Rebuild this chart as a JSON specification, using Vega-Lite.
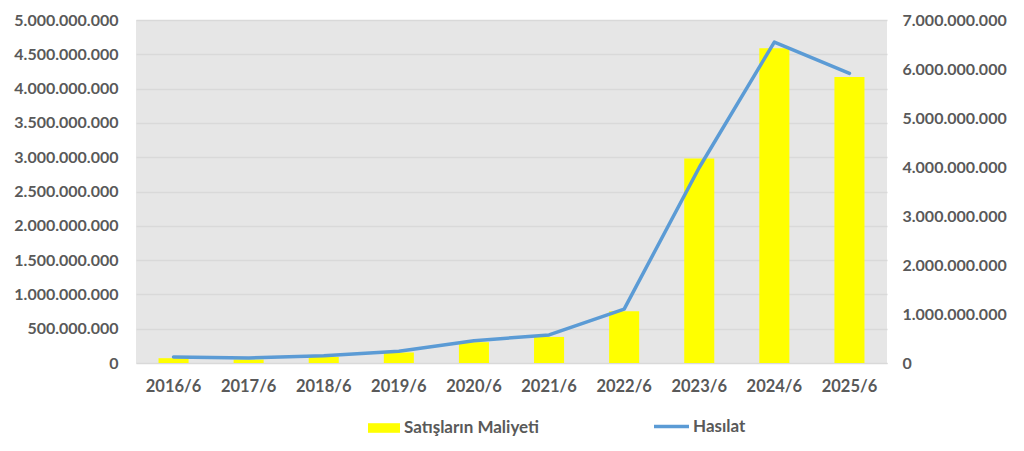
{
  "$schema": "https://vega.github.io/schema/vega-lite/v6.json",
  "width": 751,
  "height": 343,
  "autosize": {"type": "none"},
  "padding": {"left": 136, "top": 20, "right": 137, "bottom": 88},
  "background": "#ffffff",
  "data": {
    "values": [
      {"yil": "2016/6", "maliyet": 70000000, "hasilat": 123000000},
      {"yil": "2017/6", "maliyet": 50000000, "hasilat": 102000000},
      {"yil": "2018/6", "maliyet": 88000000, "hasilat": 150000000},
      {"yil": "2019/6", "maliyet": 152000000, "hasilat": 240000000},
      {"yil": "2020/6", "maliyet": 303000000, "hasilat": 456000000},
      {"yil": "2021/6", "maliyet": 380000000, "hasilat": 573000000},
      {"yil": "2022/6", "maliyet": 756000000, "hasilat": 1100000000},
      {"yil": "2023/6", "maliyet": 2980000000, "hasilat": 3990000000},
      {"yil": "2024/6", "maliyet": 4590000000, "hasilat": 6550000000},
      {"yil": "2025/6", "maliyet": 4170000000, "hasilat": 5910000000}
    ]
  },
  "encoding": {
    "x": {
      "field": "yil",
      "type": "nominal",
      "sort": null,
      "title": null,
      "scale": {"paddingInner": 0.6, "paddingOuter": 0.3},
      "axis": {
        "labelAngle": 0,
        "ticks": false,
        "domain": true,
        "domainColor": "#d9d9d9",
        "labelPadding": 15,
        "labelFontSize": 16.5,
        "grid": false
      }
    }
  },
  "layer": [
    {
      "mark": {"type": "bar", "color": "#ffff00"},
      "encoding": {
        "y": {
          "field": "maliyet",
          "type": "quantitative",
          "title": null,
          "scale": {"domain": [0, 5000000000], "nice": false},
          "axis": {
            "orient": "left",
            "values": [0, 500000000, 1000000000, 1500000000, 2000000000, 2500000000, 3000000000, 3500000000, 4000000000, 4500000000, 5000000000],
            "format": ",d",
            "grid": true,
            "gridColor": "#d9d9d9",
            "gridWidth": 1.5,
            "domain": false,
            "ticks": false,
            "labelPadding": 18
          }
        },
        "fill": {
          "datum": "Satışların Maliyeti",
          "type": "nominal",
          "scale": {"range": ["#ffff00"]},
          "legend": {
            "orient": "none",
            "legendX": 232,
            "legendY": 392,
            "title": null,
            "symbolType": "M-1,-0.3H1V0.3H-1Z",
            "symbolSize": 1024,
            "symbolStrokeWidth": 0,
            "labelOffset": 4
          }
        }
      }
    },
    {
      "mark": {"type": "line", "strokeWidth": 3.5, "strokeCap": "round", "strokeJoin": "round"},
      "encoding": {
        "y": {
          "field": "hasilat",
          "type": "quantitative",
          "title": null,
          "scale": {"domain": [0, 7000000000], "nice": false},
          "axis": {
            "orient": "right",
            "values": [0, 1000000000, 2000000000, 3000000000, 4000000000, 5000000000, 6000000000, 7000000000],
            "format": ",d",
            "grid": false,
            "domain": false,
            "ticks": false,
            "labelPadding": 15
          }
        },
        "stroke": {
          "datum": "Hasılat",
          "type": "nominal",
          "scale": {"range": ["#5b9bd5"]},
          "legend": {
            "orient": "none",
            "legendX": 516,
            "legendY": 387,
            "title": null,
            "symbolType": "stroke",
            "symbolSize": 1225,
            "symbolStrokeWidth": 3.5,
            "labelOffset": 2
          }
        }
      }
    }
  ],
  "resolve": {"scale": {"y": "independent"}},
  "config": {
    "locale": {
      "number": {"decimal": ",", "thousands": ".", "grouping": [3], "currency": ["", ""]}
    },
    "view": {"fill": "#e6e6e6", "stroke": null},
    "font": "Lato",
    "axis": {
      "labelFont": "Lato",
      "labelFontSize": 16,
      "labelFontWeight": "bold",
      "labelColor": "#595959"
    },
    "legend": {
      "labelFont": "Lato",
      "labelFontSize": 17,
      "labelFontWeight": "bold",
      "labelColor": "#595959",
      "padding": 0
    }
  }
}
